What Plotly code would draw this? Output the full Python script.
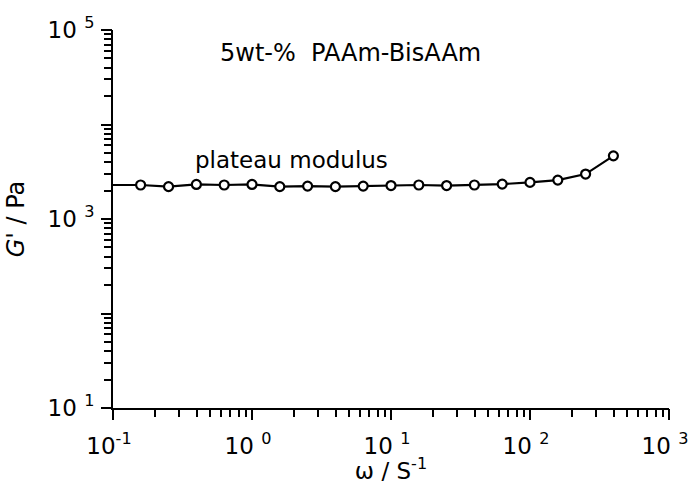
import plotly.graph_objects as go

# Data (angular frequency in s^-1, storage modulus G' in Pa)
omega = [0.158, 0.251, 0.398, 0.631, 1.0, 1.585, 2.512, 3.981, 6.31,
         10.0, 15.85, 25.12, 39.81, 63.1, 100.0, 158.5, 251.2, 398.1]
g_prime = [2290, 2200, 2320, 2290, 2320, 2200, 2230, 2200, 2230,
           2260, 2290, 2260, 2290, 2340, 2440, 2580, 2990, 4660]

x_range_min = 0.1  # plateau line starts at the axis
x_major = [0.1, 1, 10, 100, 1000]
x_major_text = ["10<sup>-1</sup>", "10 <sup>0</sup>", "10 <sup>1</sup>", "10 <sup>2</sup>", "10 <sup>3</sup>"]
y_major = [10, 100, 1000, 10000, 100000]
y_major_text = ["10 <sup>1</sup>", "", "10 <sup>3</sup>", "", "10 <sup>5</sup>"]
minor_mult = [2, 3, 4, 5, 6, 7, 8, 9]

x_minor = [float(f"{m * d:g}") for d in x_major[:-1] for m in minor_mult]
y_minor = [float(m * d) for d in y_major[:-1] for m in minor_mult]

FONT = "DejaVu Sans"

fig = go.Figure()
# connecting line (extends to the y axis on the left)
fig.add_trace(go.Scatter(
    x=[x_range_min] + omega, y=[g_prime[0]] + g_prime,
    mode="lines", line=dict(color="black", width=2.2),
    hoverinfo="skip", showlegend=False))
fig.add_trace(go.Scatter(
    x=omega, y=g_prime, mode="markers",
    marker=dict(symbol="circle", size=9, color="white",
                line=dict(color="black", width=2.2)),
    showlegend=False))
# invisible helper traces so the overlay axes (long major ticks) are drawn
fig.add_trace(go.Scatter(x=omega, y=g_prime, xaxis="x2", yaxis="y",
                         mode="lines", line=dict(width=0), opacity=0,
                         hoverinfo="skip", showlegend=False))
fig.add_trace(go.Scatter(x=omega, y=g_prime, xaxis="x", yaxis="y2",
                         mode="lines", line=dict(width=0), opacity=0,
                         hoverinfo="skip", showlegend=False))

# main axes: labels + short (minor-length) ticks at every tick value
main_common = dict(
    type="log", showgrid=False, zeroline=False, showline=True,
    linecolor="black", linewidth=2, ticks="outside", ticklen=7,
    tickwidth=2.4, tickcolor="black", tickmode="array",
    ticklabeloverflow="allow",
    tickfont=dict(family=FONT, size=23, color="black"),
)
x_vals = x_major + x_minor
x_text = x_major_text + [""] * len(x_minor)
y_vals = y_major + y_minor
y_text = y_major_text + [""] * len(y_minor)

fig.update_layout(
    xaxis=dict(**main_common, range=[-1, 3], tickvals=x_vals,
               ticktext=x_text, ticklabelshift=-4, ticklabelstandoff=9,
               automargin=False,
               title=dict(text="ω / S<sup>-1</sup>",
                          font=dict(family=FONT, size=23, color="black"),
                          standoff=6)),
    yaxis=dict(**main_common, range=[1, 5], tickvals=y_vals,
               ticktext=y_text, ticklabelstandoff=5,
               title=dict(text="<i>G</i>' / Pa",
                          font=dict(family=FONT, size=24, color="black"),
                          standoff=16)),
)

# overlay axes: longer ticks at the decades
major_common = dict(
    type="log", showgrid=False, zeroline=False, showline=False,
    ticks="outside", ticklen=11, tickwidth=2.4, tickcolor="black",
    tickmode="array", showticklabels=False, automargin=False,
)
fig.update_layout(
    xaxis2=dict(**major_common, range=[-1, 3], tickvals=x_major,
                overlaying="x", anchor="y", side="bottom"),
    yaxis2=dict(**major_common, range=[1, 5], tickvals=y_major,
                overlaying="y", anchor="x", side="left"),
)

fig.add_annotation(text="5wt-%  PAAm-BisAAm", xref="paper", yref="paper",
                   x=0.428, y=0.94, xanchor="center", yanchor="middle",
                   showarrow=False,
                   font=dict(family=FONT, size=24, color="black"))
fig.add_annotation(text="plateau modulus", xref="paper", yref="paper",
                   x=0.321, y=0.655, xanchor="center", yanchor="middle",
                   showarrow=False,
                   font=dict(family=FONT, size=23, color="black"))

fig.update_layout(
    width=688, height=484,
    margin=dict(l=113, r=19, t=30, b=76),
    paper_bgcolor="white", plot_bgcolor="white",
    font=dict(family=FONT, color="black"),
)

fig.write_html("out.html")
